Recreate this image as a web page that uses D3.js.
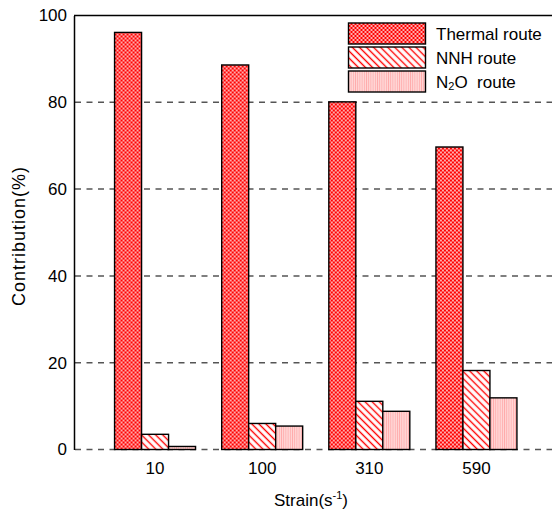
<!DOCTYPE html>
<html>
<head>
<meta charset="utf-8">
<script src="https://cdn.jsdelivr.net/npm/d3@7"></script>
<style>
  html, body { margin: 0; padding: 0; background: #fff; }
  svg { display: block; font-family: 'Liberation Sans', Arial, sans-serif; }
  .legend text { white-space: pre; }
</style>
</head>
<body>
<svg id="chart" width="552" height="512"></svg>
<script>
const strains = ['10', '100', '310', '590'];
const routes = ['Thermal route', 'NNH route', 'N2O route'];
const thermalValues = [96.1, 88.6, 80.1, 69.7];
const nnhValues = [3.5, 6.0, 11.1, 18.2];
const n2oValues = [0.7, 5.4, 8.8, 11.9];
const yTicks = [0, 20, 40, 60, 80, 100];

class GroupedBarChart {
  constructor(_config) {
    this.config = {
      parentElementSelector: _config.parentElementSelector,
      margin: _config.margin || { top: 15.5, right: 0, bottom: 62.5, left: 74 },
      width: 552,
      height: 512,
    };
    this.initVis();
  }

  initVis() {
    const { margin, width, height } = this.config;
    this.width = width - margin.left - margin.right;
    this.height = height - margin.top - margin.bottom;

    this.svg = d3.select(this.config.parentElementSelector);
    this.chart = this.svg
      .append('g')
      .attr('transform', `translate(${margin.left},${margin.top})`);

    // Scales
    this.yScale = d3.scaleLinear().domain([0, 100]).range([this.height, 0]);
    this.xScale = d3
      .scaleBand()
      .domain(strains)
      .range([27.5, 456])
      .paddingInner(0.244)
      .paddingOuter(0.122);
    this.seriesScale = d3
      .scaleBand()
      .domain(routes)
      .range([0, this.xScale.bandwidth()]);

    this.makePatterns();
    this.updateVis();
  }

  makePatterns() {
    const defs = this.svg.append('defs');

    // Thermal: red net with white holes
    const p1 = defs
      .append('pattern')
      .attr('id', 'pat-thermal')
      .attr('patternUnits', 'userSpaceOnUse')
      .attr('width', 4)
      .attr('height', 4);
    p1.append('rect').attr('width', 4).attr('height', 4).attr('fill', '#ff0000');
    p1.append('circle').attr('cx', 1).attr('cy', 1).attr('r', 0.9).attr('fill', '#fff');
    p1.append('circle').attr('cx', 3).attr('cy', 3).attr('r', 0.9).attr('fill', '#fff');

    // NNH: red diagonal hatching
    const p2 = defs
      .append('pattern')
      .attr('id', 'pat-nnh')
      .attr('patternUnits', 'userSpaceOnUse')
      .attr('width', 5)
      .attr('height', 5)
      .attr('patternTransform', 'rotate(45)');
    p2.append('rect').attr('width', 5).attr('height', 5).attr('fill', '#fff');
    p2.append('line')
      .attr('x1', 0).attr('y1', 2.5).attr('x2', 5).attr('y2', 2.5)
      .attr('stroke', '#ff0000')
      .attr('stroke-width', 1.4);

    // N2O: light pink with thin vertical lines
    const p3 = defs
      .append('pattern')
      .attr('id', 'pat-n2o')
      .attr('patternUnits', 'userSpaceOnUse')
      .attr('width', 2.2)
      .attr('height', 4);
    p3.append('rect').attr('width', 2.2).attr('height', 4).attr('fill', '#ffd6d6');
    p3.append('rect').attr('width', 0.8).attr('height', 4).attr('fill', '#ffaaaa');

    this.fills = {
      'Thermal route': 'url(#pat-thermal)',
      'NNH route': 'url(#pat-nnh)',
      'N2O route': 'url(#pat-n2o)',
    };
  }

  updateVis() {
    const vis = this;
    const data = strains.map((s, i) => ({
      strain: s,
      values: [
        { route: routes[0], value: thermalValues[i] },
        { route: routes[1], value: nnhValues[i] },
        { route: routes[2], value: n2oValues[i] },
      ],
    }));

    // Dashed gridlines (behind bars)
    vis.chart
      .append('g')
      .attr('class', 'grid')
      .selectAll('line')
      .data(yTicks.filter((t) => t < 100))
      .join('line')
      .attr('x1', 1)
      .attr('x2', vis.width)
      .attr('y1', (d) => vis.yScale(d))
      .attr('y2', (d) => vis.yScale(d))
      .attr('stroke', '#555')
      .attr('stroke-width', 1.5)
      .attr('stroke-dasharray', '6,5.5');

    // Bars
    vis.chart
      .append('g')
      .attr('class', 'bars')
      .selectAll('g')
      .data(data)
      .join('g')
      .attr('transform', (d) => `translate(${vis.xScale(d.strain)},0)`)
      .selectAll('rect')
      .data((d) => d.values)
      .join('rect')
      .attr('x', (d) => vis.seriesScale(d.route))
      .attr('y', (d) => vis.yScale(d.value))
      .attr('width', vis.seriesScale.bandwidth())
      .attr('height', (d) => vis.height - vis.yScale(d.value))
      .attr('fill', (d) => vis.fills[d.route])
      .attr('stroke', '#000')
      .attr('stroke-width', 1.4);

    // Left axis and top frame
    const yAxis = d3
      .axisLeft(vis.yScale)
      .tickValues(yTicks)
      .tickSize(0)
      .tickPadding(7);
    const yAxisG = vis.chart.append('g').attr('class', 'y-axis').call(yAxis);
    yAxisG.select('.domain').attr('stroke', '#000').attr('stroke-width', 1.5);
    yAxisG
      .selectAll('text')
      .attr('font-size', 17)
      .attr('font-family', null)
      .attr('fill', '#000');

    vis.chart
      .append('line')
      .attr('x1', 0)
      .attr('x2', vis.width)
      .attr('y1', 0)
      .attr('y2', 0)
      .attr('stroke', '#000')
      .attr('stroke-width', 1.5);

    // Category labels under each group
    const xAxis = d3.axisBottom(vis.xScale).tickSize(0).tickPadding(12);
    const xAxisG = vis.chart
      .append('g')
      .attr('class', 'x-axis')
      .attr('transform', `translate(0,${vis.height})`)
      .call(xAxis);
    xAxisG.select('.domain').remove();
    xAxisG
      .selectAll('text')
      .attr('font-size', 17)
      .attr('font-family', null)
      .attr('fill', '#000');

    // Axis titles
    const xTitle = vis.chart
      .append('text')
      .attr('x', 237)
      .attr('y', 490)
      .attr('text-anchor', 'middle')
      .attr('font-size', 17)
      .attr('fill', '#000');
    xTitle.append('tspan').text('Strain(s');
    xTitle.append('tspan').attr('font-size', 11).attr('dy', -7).text('-1');
    xTitle.append('tspan').attr('dy', 7).text(')');

    vis.svg
      .append('text')
      .attr('transform', 'translate(25,236) rotate(-90)')
      .attr('text-anchor', 'middle')
      .attr('font-size', 18)
      .attr('letter-spacing', 1)
      .attr('fill', '#000')
      .text('Contribution(%)');

    // Legend
    const legend = vis.svg
      .append('g')
      .attr('class', 'legend')
      .attr('transform', 'translate(348.5,23)');
    const items = legend
      .selectAll('g')
      .data(routes)
      .join('g')
      .attr('transform', (d, i) => `translate(0,${i * 24})`);
    items
      .append('rect')
      .attr('width', 77)
      .attr('height', 21)
      .attr('fill', (d) => vis.fills[d])
      .attr('stroke', '#000')
      .attr('stroke-width', 1.4);
    items.each(function (d) {
      const t = d3
        .select(this)
        .append('text')
        .attr('x', 87.5)
        .attr('y', 16.5)
        .attr('font-size', 17)
        .attr('fill', '#000');
      if (d === 'N2O route') {
        t.append('tspan').text('N');
        t.append('tspan').attr('font-size', 11).attr('dy', 2).text('2');
        t.append('tspan').attr('dy', -2).text('O  route');
      } else {
        t.text(d);
      }
    });
  }
}

const chart = new GroupedBarChart({ parentElementSelector: '#chart' });
</script>
</body>
</html>
